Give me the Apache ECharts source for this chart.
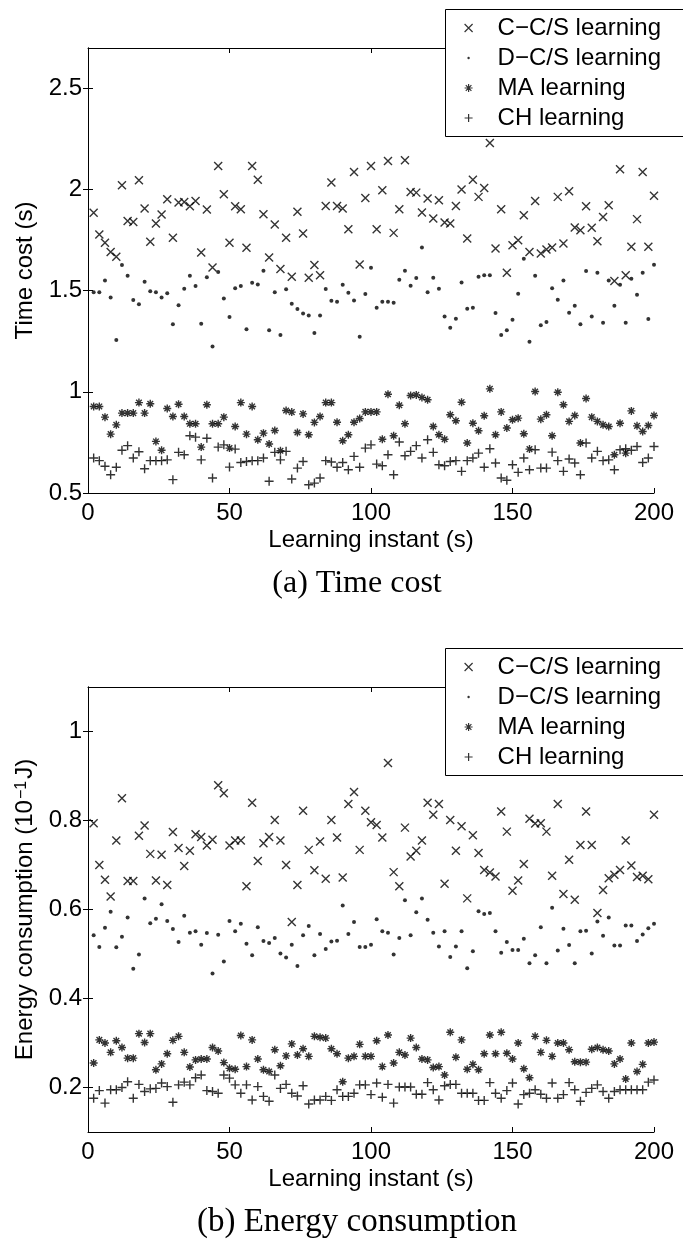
<!DOCTYPE html>
<html>
<head>
<meta charset="utf-8">
<script src="https://cdn.jsdelivr.net/npm/echarts@6/dist/echarts.min.js"></script>
<style>
  html, body { margin: 0; padding: 0; background: #fff; }
  #main { width: 683px; height: 1239px; }
</style>
</head>
<body>
<div id="main"></div>
<script>
// learning instants (s)
var instants = [2, 4, 6, 8, 10, 12, 14, 16, 18, 20, 22, 24, 26, 28, 30, 32, 34, 36, 38, 40,
  42, 44, 46, 48, 50, 52, 54, 56, 58, 60, 62, 64, 66, 68, 70, 72, 74, 76, 78, 80,
  82, 84, 86, 88, 90, 92, 94, 96, 98, 100, 102, 104, 106, 108, 110, 112, 114, 116, 118, 120,
  122, 124, 126, 128, 130, 132, 134, 136, 138, 140, 142, 144, 146, 148, 150, 152, 154, 156, 158, 160,
  162, 164, 166, 168, 170, 172, 174, 176, 178, 180, 182, 184, 186, 188, 190, 192, 194, 196, 198, 200];

// (a) time cost (s)
var timeCcs = [1.885, 1.778, 1.737, 1.692, 1.668, 2.021, 1.845, 1.840, 2.046, 1.906,
  1.742, 1.832, 1.877, 1.952, 1.762, 1.936, 1.939, 1.918, 1.944, 1.689,
  1.901, 1.615, 2.117, 1.977, 1.737, 1.918, 1.903, 1.712, 2.117, 2.049,
  1.878, 1.664, 1.827, 1.607, 1.762, 1.569, 1.890, 1.783, 1.564, 1.627,
  1.577, 1.919, 2.035, 1.919, 1.906, 1.804, 2.087, 1.630, 1.959, 2.117,
  1.804, 1.997, 2.141, 1.786, 1.903, 2.145, 1.988, 1.985, 1.887, 1.956,
  1.857, 1.947, 1.837, 1.832, 1.919, 2.000, 1.758, 2.049, 1.964, 2.008,
  2.230, 1.709, 1.903, 1.589, 1.725, 1.750, 1.873, 1.692, 1.944, 1.684,
  1.704, 1.714, 1.964, 1.734, 1.992, 1.813, 1.799, 1.918, 1.811, 1.745,
  1.865, 1.923, 1.548, 2.100, 1.577, 1.717, 1.854, 2.087, 1.717, 1.969];
var timeDcs = [1.492, 1.492, 1.551, 1.467, 1.257, 1.627, 1.574, 1.454, 1.433, 1.544,
  1.498, 1.493, 1.467, 1.487, 1.334, 1.428, 1.510, 1.574, 1.523, 1.337,
  1.567, 1.224, 1.592, 1.462, 1.370, 1.512, 1.523, 1.309, 1.539, 1.531,
  1.599, 1.304, 1.493, 1.281, 1.507, 1.436, 1.410, 1.388, 1.378, 1.291,
  1.378, 1.508, 1.451, 1.446, 1.530, 1.490, 1.452, 1.273, 1.484, 1.613,
  1.416, 1.446, 1.446, 1.441, 1.554, 1.599, 1.525, 1.563, 1.714, 1.492,
  1.564, 1.510, 1.372, 1.317, 1.362, 1.541, 1.411, 1.416, 1.569, 1.577,
  1.577, 1.390, 1.281, 1.304, 1.357, 1.485, 1.658, 1.248, 1.574, 1.329,
  1.345, 1.512, 1.456, 1.551, 1.391, 1.426, 1.334, 1.597, 1.373, 1.589,
  1.342, 1.551, 1.426, 1.530, 1.342, 1.559, 1.480, 1.589, 1.360, 1.628];
var timeMa = [0.928, 0.928, 0.875, 0.791, 0.837, 0.895, 0.895, 0.895, 0.947, 0.895,
  0.941, 0.755, 0.711, 0.918, 0.878, 0.939, 0.878, 0.842, 0.842, 0.727,
  0.936, 0.842, 0.842, 0.875, 0.722, 0.829, 0.947, 0.791, 0.928, 0.763,
  0.796, 0.742, 0.809, 0.709, 0.908, 0.900, 0.799, 0.891, 0.788, 0.849,
  0.878, 0.947, 0.947, 0.850, 0.758, 0.788, 0.850, 0.868, 0.901, 0.901,
  0.901, 0.766, 0.988, 0.783, 0.934, 0.842, 0.982, 0.985, 0.972, 0.961,
  0.829, 0.788, 0.766, 0.887, 0.857, 0.949, 0.747, 0.845, 0.808, 0.882,
  1.015, 0.788, 0.901, 0.821, 0.862, 0.870, 0.793, 0.717, 1.002, 0.865,
  0.887, 0.783, 0.998, 0.936, 0.854, 0.883, 0.747, 0.967, 0.875, 0.854,
  0.837, 0.829, 0.689, 0.845, 0.697, 0.906, 0.832, 0.804, 0.834, 0.883];
var timeCh = [0.673, 0.660, 0.632, 0.590, 0.627, 0.711, 0.734, 0.673, 0.704, 0.620,
  0.660, 0.660, 0.660, 0.664, 0.566, 0.701, 0.689, 0.783, 0.776, 0.664,
  0.771, 0.574, 0.727, 0.738, 0.628, 0.717, 0.651, 0.656, 0.660, 0.660,
  0.673, 0.558, 0.701, 0.664, 0.706, 0.569, 0.623, 0.656, 0.541, 0.549,
  0.574, 0.660, 0.653, 0.627, 0.651, 0.615, 0.681, 0.627, 0.722, 0.738,
  0.643, 0.635, 0.689, 0.590, 0.752, 0.684, 0.706, 0.734, 0.673, 0.763,
  0.701, 0.640, 0.635, 0.656, 0.660, 0.607, 0.660, 0.673, 0.697, 0.627,
  0.719, 0.648, 0.574, 0.563, 0.640, 0.602, 0.673, 0.615, 0.714, 0.623,
  0.623, 0.702, 0.660, 0.607, 0.668, 0.648, 0.590, 0.747, 0.673, 0.706,
  0.660, 0.664, 0.615, 0.714, 0.719, 0.711, 0.730, 0.651, 0.673, 0.730];

// (b) energy consumption (10^-1 J)
var energyCcs = [0.794, 0.700, 0.667, 0.629, 0.755, 0.850, 0.664, 0.664, 0.766, 0.789,
  0.725, 0.665, 0.723, 0.655, 0.774, 0.738, 0.698, 0.732, 0.769, 0.763,
  0.744, 0.757, 0.879, 0.861, 0.744, 0.755, 0.755, 0.652, 0.840, 0.709,
  0.749, 0.763, 0.801, 0.755, 0.700, 0.572, 0.655, 0.822, 0.734, 0.688,
  0.753, 0.669, 0.801, 0.762, 0.672, 0.837, 0.864, 0.734, 0.822, 0.796,
  0.790, 0.762, 0.929, 0.684, 0.652, 0.784, 0.719, 0.732, 0.755, 0.840,
  0.813, 0.837, 0.658, 0.801, 0.732, 0.787, 0.625, 0.767, 0.727, 0.689,
  0.683, 0.674, 0.820, 0.775, 0.642, 0.665, 0.702, 0.804, 0.793, 0.794,
  0.775, 0.676, 0.837, 0.635, 0.712, 0.622, 0.745, 0.820, 0.745, 0.592,
  0.644, 0.670, 0.678, 0.689, 0.755, 0.699, 0.673, 0.676, 0.668, 0.813];
var energyDcs = [0.542, 0.516, 0.559, 0.595, 0.515, 0.539, 0.582, 0.467, 0.499, 0.625,
  0.569, 0.579, 0.612, 0.574, 0.556, 0.527, 0.586, 0.548, 0.551, 0.521,
  0.547, 0.456, 0.543, 0.483, 0.574, 0.551, 0.568, 0.523, 0.497, 0.560,
  0.529, 0.525, 0.536, 0.501, 0.492, 0.521, 0.473, 0.542, 0.563, 0.497,
  0.545, 0.511, 0.528, 0.530, 0.609, 0.545, 0.572, 0.516, 0.516, 0.521,
  0.578, 0.551, 0.548, 0.499, 0.536, 0.621, 0.542, 0.594, 0.625, 0.577,
  0.548, 0.517, 0.551, 0.493, 0.517, 0.551, 0.468, 0.506, 0.596, 0.590,
  0.592, 0.551, 0.503, 0.527, 0.509, 0.509, 0.534, 0.479, 0.497, 0.560,
  0.479, 0.604, 0.508, 0.557, 0.520, 0.479, 0.551, 0.552, 0.501, 0.573,
  0.541, 0.582, 0.519, 0.519, 0.564, 0.564, 0.529, 0.544, 0.558, 0.568];
var energyMa = [0.255, 0.307, 0.300, 0.279, 0.305, 0.290, 0.266, 0.266, 0.321, 0.301,
  0.321, 0.240, 0.253, 0.276, 0.306, 0.315, 0.279, 0.246, 0.262, 0.264,
  0.264, 0.290, 0.282, 0.256, 0.243, 0.241, 0.317, 0.247, 0.307, 0.264,
  0.240, 0.236, 0.285, 0.249, 0.271, 0.298, 0.273, 0.287, 0.270, 0.315,
  0.313, 0.311, 0.287, 0.276, 0.213, 0.266, 0.270, 0.297, 0.270, 0.270,
  0.305, 0.247, 0.318, 0.255, 0.279, 0.273, 0.311, 0.290, 0.264, 0.262,
  0.245, 0.247, 0.228, 0.324, 0.268, 0.307, 0.241, 0.252, 0.240, 0.276,
  0.318, 0.276, 0.324, 0.277, 0.264, 0.300, 0.242, 0.222, 0.315, 0.279,
  0.306, 0.270, 0.300, 0.300, 0.285, 0.258, 0.257, 0.257, 0.286, 0.290,
  0.285, 0.282, 0.253, 0.264, 0.219, 0.300, 0.236, 0.252, 0.300, 0.302];
var energyCh = [0.176, 0.193, 0.165, 0.195, 0.195, 0.200, 0.213, 0.176, 0.207, 0.191,
  0.197, 0.198, 0.210, 0.202, 0.167, 0.206, 0.212, 0.206, 0.222, 0.228,
  0.193, 0.191, 0.187, 0.228, 0.221, 0.206, 0.187, 0.206, 0.172, 0.202,
  0.180, 0.169, 0.228, 0.198, 0.207, 0.187, 0.181, 0.204, 0.163, 0.172,
  0.172, 0.180, 0.171, 0.195, 0.180, 0.180, 0.187, 0.206, 0.206, 0.184,
  0.210, 0.178, 0.207, 0.165, 0.201, 0.201, 0.201, 0.185, 0.185, 0.211,
  0.195, 0.172, 0.204, 0.207, 0.207, 0.187, 0.187, 0.187, 0.171, 0.171,
  0.211, 0.187, 0.176, 0.193, 0.210, 0.163, 0.184, 0.187, 0.195, 0.185,
  0.176, 0.210, 0.176, 0.184, 0.211, 0.195, 0.169, 0.189, 0.198, 0.206,
  0.191, 0.176, 0.191, 0.195, 0.195, 0.195, 0.195, 0.195, 0.212, 0.217];

var names = ['C\u2212C/S learning', 'D\u2212C/S learning', 'MA learning', 'CH learning'];
var timeTicks = [0.5, 1, 1.5, 2, 2.5];
var energyTicks = [0.2, 0.4, 0.6, 0.8, 1];

var chart = echarts.init(document.getElementById('main'));
var font = 'Liberation Sans';

// matlab style markers
var symCross = 'path://M0,0L10,10M10,0L0,10';
var symStar = 'path://M5,0L5,10M0,5L10,5M1.5,1.5L8.5,8.5M8.5,1.5L1.5,8.5';
var symPlus = 'path://M5,0L5,10M0,5L10,5';
var symDotIcon = 'path://M3.5,5a1.5,1.5 0 1,0 3,0a1.5,1.5 0 1,0 -3,0M0,0L0.01,0M10,10L10.01,10';

function pairs(ys) {
  return instants.map(function (x, i) { return [x, ys[i]]; });
}

function lineMarker(name, ys, g, symbol, size) {
  return {
    type: 'scatter', name: name, xAxisIndex: g * 2, yAxisIndex: g * 2,
    symbol: symbol, symbolSize: size, data: pairs(ys),
    itemStyle: { color: 'transparent', borderColor: '#000', borderWidth: 1.4 },
    emphasis: { disabled: true }
  };
}

function dotMarker(name, ys, g) {
  return {
    type: 'scatter', name: name, xAxisIndex: g * 2, yAxisIndex: g * 2,
    symbol: 'circle', symbolSize: 4, data: pairs(ys),
    itemStyle: { color: '#000', borderWidth: 0 },
    emphasis: { disabled: true }
  };
}

function xAxes(g) {
  var base = {
    type: 'value', gridIndex: g, min: 0, max: 200, interval: 50,
    axisLine: { show: true, lineStyle: { color: '#000', width: 1 } },
    axisTick: { show: true, inside: true, length: 5, lineStyle: { color: '#000' } },
    splitLine: { show: false }
  };
  return [
    Object.assign({}, base, {
      position: 'bottom',
      axisLabel: { color: '#000', fontSize: 24, fontFamily: font, margin: 8 },
      name: 'Learning instant (s)', nameLocation: 'middle', nameGap: 35,
      nameTextStyle: { color: '#000', fontSize: 24, fontFamily: font }
    }),
    Object.assign({}, base, { position: 'top', axisLabel: { show: false } })
  ];
}

function yAxes(g, min, max, ticks, name, rich) {
  var base = {
    type: 'value', gridIndex: g, min: min, max: max,
    axisLine: { show: true, lineStyle: { color: '#000', width: 1 } },
    axisTick: { show: true, inside: true, length: 5, customValues: ticks, lineStyle: { color: '#000' } },
    splitLine: { show: false }
  };
  return [
    Object.assign({}, base, {
      position: 'left',
      axisLabel: { color: '#000', fontSize: 24, fontFamily: font, margin: 6, customValues: ticks },
      name: name, nameLocation: 'middle', nameGap: 49, nameRotate: 90,
      nameTextStyle: { color: '#000', fontSize: 24, fontFamily: font, rich: rich }
    }),
    Object.assign({}, base, { position: 'right', axisLabel: { show: false } })
  ];
}

// legend entries without own box; the frame is drawn as a graphic rect running off the right edge
function legendAt(top) {
  return {
    orient: 'vertical', left: 464, top: top, z: 10,
    itemWidth: 48, itemHeight: 8, itemGap: 6,
    padding: 0,
    itemStyle: { borderWidth: 1.2 },
    textStyle: { color: '#000', fontSize: 24, lineHeight: 24, fontFamily: font },
    selectedMode: false,
    data: [
      { name: names[0] },
      { name: names[1], icon: symDotIcon },
      { name: names[2] },
      { name: names[3] }
    ]
  };
}

function legendFrame(top) {
  return {
    type: 'rect', z: 5, silent: true,
    shape: { x: 445.5, y: top + 0.5, width: 300, height: 127 },
    style: { fill: '#fff', stroke: '#000', lineWidth: 1 }
  };
}

var energyRich = {
  n: { fontSize: 24, fontFamily: font, color: '#000' },
  sup: { fontSize: 16, fontFamily: font, color: '#000', verticalAlign: 'top', padding: [0, 2, 0, 1] }
};

var option = {
  animation: false,
  backgroundColor: '#fff',
  textStyle: { fontFamily: font },
  grid: [
    { left: 88, width: 566, top: 48, height: 445 },
    { left: 88, width: 566, top: 687, height: 445 }
  ],
  xAxis: xAxes(0).concat(xAxes(1)),
  yAxis: yAxes(0, 0.5, 2.7, timeTicks, 'Time cost (s)', null)
    .concat(yAxes(1, 0.1, 1.1, energyTicks, '{n|Energy consumption (10}{sup|\u22121}{n|J)}', energyRich)),
  legend: [legendAt(16), legendAt(655)],
  series: [
    lineMarker(names[0], timeCcs, 0, symCross, 8),
    dotMarker(names[1], timeDcs, 0),
    lineMarker(names[2], timeMa, 0, symStar, 8),
    lineMarker(names[3], timeCh, 0, symPlus, 9),
    lineMarker(names[0], energyCcs, 1, symCross, 8),
    dotMarker(names[1], energyDcs, 1),
    lineMarker(names[2], energyMa, 1, symStar, 8),
    lineMarker(names[3], energyCh, 1, symPlus, 9)
  ],
  graphic: [
    legendFrame(9),
    legendFrame(648),
    { type: 'text', x: 357, y: 584, style: { text: '(a) Time cost', fontSize: 32, fontFamily: 'Liberation Serif', fill: '#000', align: 'center', verticalAlign: 'middle' } },
    { type: 'text', x: 357, y: 1222, style: { text: '(b) Energy consumption', fontSize: 33, fontFamily: 'Liberation Serif', fill: '#000', align: 'center', verticalAlign: 'middle' } }
  ]
};

chart.setOption(option);
</script>
</body>
</html>
